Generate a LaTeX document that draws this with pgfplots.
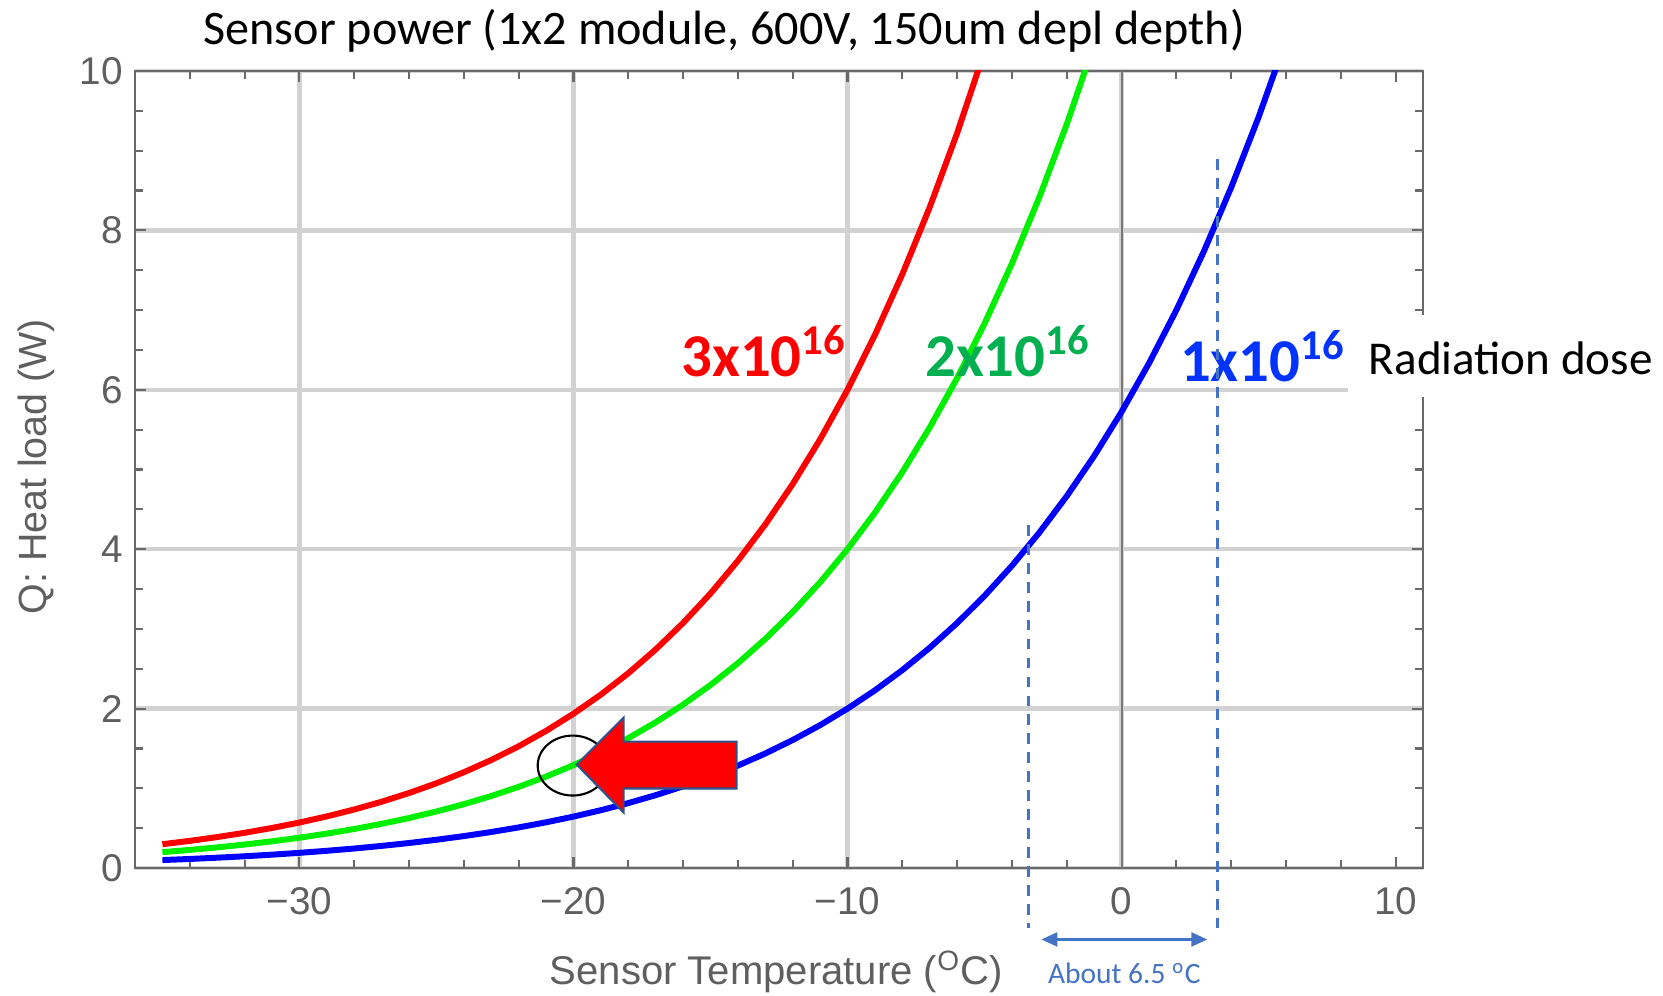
\documentclass[border=0pt]{standalone}
\usepackage{pgfplots}
\pgfplotsset{compat=1.18}
\usepackage{pgfplotstable}
\usepackage{fontspec}
\setmainfont{Carlito}
\newfontfamily\arial{Liberation Sans}
\usetikzlibrary{arrows.meta}
\definecolor{framegray}{RGB}{105,105,105}
\definecolor{gridgray}{RGB}{210,210,210}
\definecolor{zerogray}{RGB}{120,120,120}
\definecolor{ticktext}{RGB}{95,95,95}
\definecolor{lblgreen}{RGB}{0,176,80}
\definecolor{lblblue}{RGB}{0,51,255}
\definecolor{annoblue}{RGB}{68,114,196}
\definecolor{arrowedge}{RGB}{47,82,143}
\definecolor{curvegreen}{RGB}{0,240,0}

% dose 3e16
\pgfplotstableread{
t q
-35 0.2985
-34 0.3405
-33 0.3882
-32 0.4419
-31 0.5025
-30 0.5706
-29 0.6477
-28 0.7341
-27 0.8316
-26 0.9408
-25 1.0635
-24 1.2012
-23 1.3551
-22 1.5276
-21 1.7202
-20 1.9356
-19 2.1756
-18 2.4435
-17 2.7420
-16 3.0744
-15 3.4440
-14 3.8547
-13 4.3110
-12 4.8171
-11 5.3778
-10 6.0000
-9 6.6882
-8 7.4496
-7 8.2908
-6 9.2205
-5 10.2459
-4 11.3775
}\redtable
% dose 2e16
\pgfplotstableread{
t q
-35 0.1990
-34 0.2270
-33 0.2588
-32 0.2946
-31 0.3350
-30 0.3804
-29 0.4318
-28 0.4894
-27 0.5544
-26 0.6272
-25 0.7090
-24 0.8008
-23 0.9034
-22 1.0184
-21 1.1468
-20 1.2904
-19 1.4504
-18 1.6290
-17 1.8280
-16 2.0496
-15 2.2960
-14 2.5698
-13 2.8740
-12 3.2114
-11 3.5852
-10 4.0000
-9 4.4588
-8 4.9664
-7 5.5272
-6 6.1470
-5 6.8306
-4 7.5850
-3 8.4164
-2 9.3316
-1 10.3392
0 11.4468
}\greentable
% dose 1e16
\pgfplotstableread{
t q
-35 0.0995
-34 0.1135
-33 0.1294
-32 0.1473
-31 0.1675
-30 0.1902
-29 0.2159
-28 0.2447
-27 0.2772
-26 0.3136
-25 0.3545
-24 0.4004
-23 0.4517
-22 0.5092
-21 0.5734
-20 0.6452
-19 0.7252
-18 0.8145
-17 0.9140
-16 1.0248
-15 1.1480
-14 1.2849
-13 1.4370
-12 1.6057
-11 1.7926
-10 2.0000
-9 2.2294
-8 2.4832
-7 2.7636
-6 3.0735
-5 3.4153
-4 3.7925
-3 4.2082
-2 4.6658
-1 5.1696
0 5.7234
1 6.3321
2 7.0005
3 7.7343
4 8.5389
5 9.4206
6 10.3866
}\bluetable

\begin{document}
\begin{tikzpicture}
\useasboundingbox (0,0) rectangle (16.63cm,9.95cm);
\begin{axis}[
  at={(1.35cm,1.27cm)}, anchor=south west,
  scale only axis, width=12.88cm, height=7.97cm,
  xmin=-36, xmax=11, ymin=0, ymax=10,
  xtick={-30,-20,-10,0},
  xticklabels={−30,−20,−10,0},
  extra x ticks={10},
  extra x tick labels={10},
  extra x tick style={grid=none},
  minor xtick={-34,-32,-28,-26,-24,-22,-18,-16,-14,-12,-8,-6,-4,-2,2,4,6,8},
  ytick={0,2,4,6,8,10},
  yticklabels={0,2,4,6,8,10},
  minor ytick={0.5,1,1.5,2.5,3,3.5,4.5,5,5.5,6.5,7,7.5,8.5,9,9.5},
  grid=major,
  major grid style={gridgray, line width=1.3pt},
  minor grid style={draw=none},
  axis line style={framegray, line width=0.7pt},
  tick style={framegray, line width=0.6pt},
  major tick length=0.11cm,
  minor tick length=0.08cm,
  ticklabel style={font=\arial\fontsize{11}{13}\selectfont, text=ticktext},
  xticklabel style={yshift=-0.07cm},
  clip mode=individual,
]
\draw[zerogray, line width=0.6pt] (axis cs:0,0) -- (axis cs:0,10);
\addplot[red, line width=1.7pt, no markers] table[x=t, y=q] {\redtable};
\addplot[curvegreen, line width=1.7pt, no markers] table[x=t, y=q] {\greentable};
\addplot[blue, line width=1.7pt, no markers] table[x=t, y=q] {\bluetable};
\end{axis}

\begin{scope}[shift={(0cm,9.95cm)}, x=0.01cm, y=-0.01cm]
  % white box behind "Radiation dose"
  \fill[white] (1349,315) rectangle (1663,397);
  % title
  \node[anchor=base, inner sep=0pt, font=\fontsize{13.7}{16}\selectfont] at (724.5,45) {Sensor power (1x2 module, 600V, 150um depl depth)};
  % axis labels
  \node[anchor=base, inner sep=0pt, text=ticktext, font=\arial\fontsize{11.4}{13}\selectfont] at (777,985) {Sensor Temperature (\textsuperscript{O}C)};
  \node[anchor=base, rotate=90, inner sep=0pt, text=ticktext, font=\arial\fontsize{11.2}{13}\selectfont] at (47,467) {Q: Heat load (W)};
  % dose labels
  \node[anchor=base west, inner sep=0pt, text=red, font=\bfseries\fontsize{17.3}{20}\selectfont] at (681,377) {3x10\textsuperscript{16}};
  \node[anchor=base west, inner sep=0pt, text=lblgreen, font=\bfseries\fontsize{17.3}{20}\selectfont] at (925,377) {2x10\textsuperscript{16}};
  \node[anchor=base west, inner sep=0pt, text=lblblue, font=\bfseries\fontsize{17.3}{20}\selectfont] at (1180,382) {1x10\textsuperscript{16}};
  \node[anchor=base west, inner sep=0pt, font=\fontsize{13.4}{16}\selectfont] at (1369,375) {Radiation dose};
  % dashed guide lines
  \draw[annoblue, line width=0.7pt, dash pattern=on 3.1pt off 2.3pt] (1029,525) -- (1029,929);
  \draw[annoblue, line width=0.7pt, dash pattern=on 3.1pt off 2.3pt] (1218,159) -- (1218,929);
  % double arrow
  \draw[annoblue, line width=0.7pt, {Triangle[length=0.16cm,width=0.14cm]}-{Triangle[length=0.16cm,width=0.14cm]}] (1042,940) -- (1208,940);
  \node[anchor=base, inner sep=0pt, text=annoblue, font=\fontsize{8.4}{10}\selectfont] at (1125,984) {About 6.5 \textsuperscript{o}C};
  % circle and block arrow
  \draw[black, line width=0.6pt] (573,766) ellipse [x radius=35, y radius=30];
  \draw[arrowedge, line width=0.6pt, fill=red, line join=miter]
    (577,765) -- (624,718) -- (624,742) -- (737,742) -- (737,789) -- (624,789) -- (624,813) -- cycle;
\end{scope}
\end{tikzpicture}
\end{document}
